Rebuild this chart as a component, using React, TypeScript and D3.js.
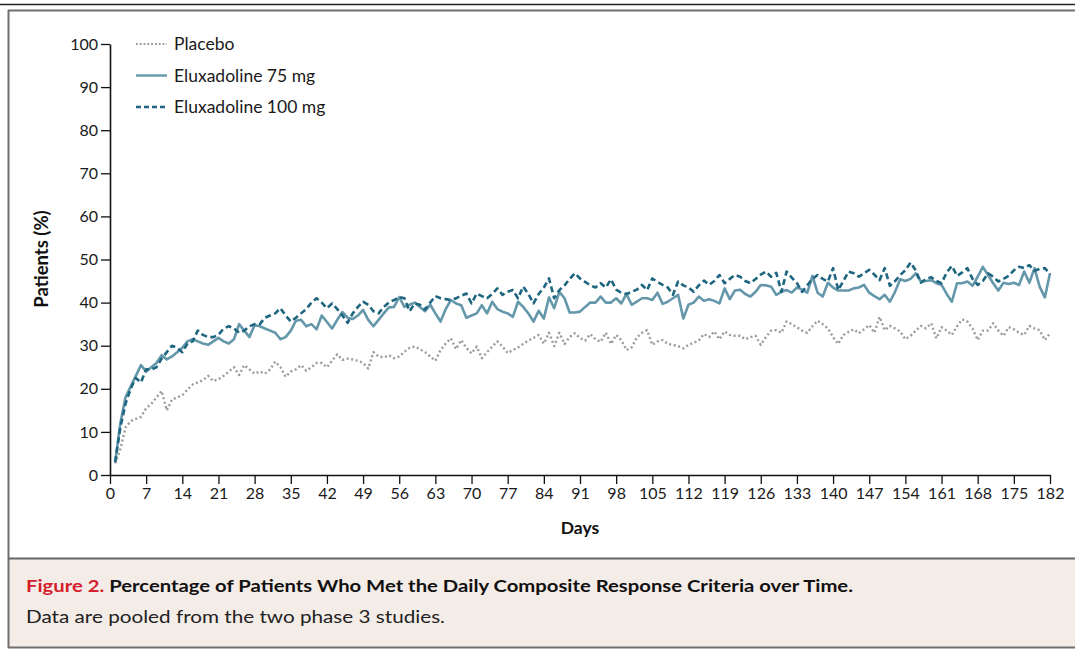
import { useEffect, useRef } from 'react';
import * as d3 from 'd3';

// study days 1..182
const days = d3.range(1, 183);

const xTicks = [0, 7, 14, 21, 28, 35, 42, 49, 56, 63, 70, 77, 84, 91, 98, 105, 112, 119, 126, 133, 140, 147, 154, 161, 168, 175, 182];
const yTicks = [0, 10, 20, 30, 40, 50, 60, 70, 80, 90, 100];

// % of patients meeting daily composite response
const placebo = [
  2.7, 6, 11, 12.5, 13, 13.5, 15.5, 16.5, 18, 19.5,
  15, 17.5, 18, 18.5, 19.8, 21, 21.5, 22, 23, 21.8,
  22.2, 23, 24, 25, 23.2, 25.5, 24.5, 23.5, 24, 23.5,
  24.5, 26.3, 25, 22.8, 24, 24.5, 25.5, 24.2, 25, 26,
  26, 25, 26.5, 28, 26.7, 27, 26.8, 26.5, 26, 24.7,
  28.5, 27.5, 27.3, 27.8, 27.1, 27.5, 28.6, 29.5, 29.8, 29.2,
  28.5, 27.5, 26.5, 29, 30.5, 31.7, 29.2, 31.3, 29.5, 28.2,
  29.8, 27.1, 28.5, 29.8, 31, 29.8, 28.3, 29, 29.6, 30.4,
  31.2, 31.8, 32.5, 30.5, 33, 29.9, 33, 30.4, 32, 32.9,
  31.8, 31.2, 32.7, 31.5, 30.9, 33, 30.4, 32.5, 31.3, 29,
  29.6, 31.9, 33, 33.6, 30.2, 31, 31.3, 30.4, 30.2, 29.9,
  29.4, 30.2, 30.7, 31.2, 32.7, 32, 33.3, 31.5, 33.3, 32.5,
  32.3, 32.3, 31.5, 32, 32.3, 30.2, 32, 33.5, 33.6, 33,
  35.6, 35, 34.3, 33.5, 33, 34.5, 35.8, 35, 34, 32,
  30.4, 32.5, 33.2, 33.8, 32.9, 33.8, 34.8, 33, 36.7, 33.6,
  34.6, 34, 33.3, 31.5, 32.3, 33.5, 34.6, 34, 35.2, 31.7,
  34.3, 33.5, 32.5, 34.5, 36.1, 35.6, 34, 31.3, 33.5, 33.5,
  35.2, 33.5, 32.3, 34.3, 33.8, 33, 32.5, 34.6, 34, 33.6,
  31.3, 32.9,
];

const elux75 = [
  3, 12, 18, 20.5, 23, 25.5, 24, 25, 26, 27.8,
  26.8, 27.5, 28.5, 29.5, 31, 31.5, 31, 30.5, 30.2, 31,
  31.8, 31, 30.5, 31.5, 35, 33.5, 32, 34.8, 34.5, 34,
  33.5, 33, 31.5, 32, 33.5, 35.8, 36, 34.5, 35, 33.8,
  37, 35.5, 34, 36, 37.8, 36.5, 36.2, 37, 38.3, 36,
  34.5, 36, 37.5, 38.9, 39, 41.3, 39, 39.5, 40, 39,
  38, 39.5, 37.5, 35.6, 38.5, 40.6, 39.8, 39.4, 36.5, 37,
  37.5, 39.4, 37.5, 40.2, 38.5, 37.9, 37.5, 36.7, 40.2, 39,
  37.5, 35.6, 38.1, 36.3, 41.2, 38.7, 42.5, 41, 37.7, 37.7,
  37.9, 39, 40, 40, 41.4, 40, 40, 41, 39.8, 42,
  39.5, 40.2, 41, 41, 40.6, 42.3, 39.7, 40.2, 41, 41.8,
  36.3, 39.5, 40, 41.4, 40.4, 40.8, 40.4, 39.8, 43.3, 40.8,
  42.8, 43, 42, 41.4, 42.5, 44.1, 44, 43.7, 41.8, 42.5,
  42.9, 42.3, 43.5, 43, 42.3, 46.2, 42.3, 41.4, 44.6, 43.5,
  42.8, 42.8, 42.8, 43.3, 43.5, 44.1, 42.3, 41.5, 40.8, 41.8,
  40.2, 42.5, 45.4, 45, 45.5, 46.8, 44.9, 45, 45.2, 44.5,
  44.1, 42, 40.2, 44.5, 44.5, 44.9, 43.9, 46, 48.3, 46.4,
  44.5, 42.8, 44.6, 44.3, 44.6, 44.1, 47.2, 44.6, 48, 43.7,
  41.2, 46.8,
];

const elux100 = [
  3, 11, 16.5, 20, 22.5, 21.5, 24.5, 24.5, 25, 27,
  28.5, 30, 29.5, 28.5, 30.5, 31, 33.5, 32.5, 32, 32,
  32.5, 34, 34.5, 34, 33, 33.5, 34.5, 35, 35, 36.5,
  37, 37.5, 38.7, 37, 35.6, 36.5, 37.5, 38.5, 40, 41,
  40, 38.7, 39.8, 38.5, 37, 35.3, 37.5, 39, 40.2, 39.5,
  38, 37.5, 39, 40, 40.6, 41.3, 41, 38, 39.8, 39.5,
  38.4, 40, 41.5, 41, 40.8, 40.6, 41, 41.6, 42.1, 39.8,
  42.1, 41.5, 41, 42, 43.3, 41.8, 42.5, 42.9, 41, 43.7,
  42, 39.8, 42, 43.5, 45.6, 41, 42.9, 44, 45.5, 46.8,
  45.6, 44.8, 44, 43.5, 44.5, 43.5, 45.4, 43, 42.3, 42,
  42.5, 43, 44.1, 42.9, 45.6, 44.8, 44.1, 43.5, 41.8, 44.9,
  44, 43.5, 42.5, 44, 45.1, 44.1, 45, 46.4, 44.5, 45.5,
  46.4, 46, 45, 44.5, 45.5, 46.5, 47.2, 46, 46.9, 42.5,
  47.2, 45.8, 44.5, 42.5, 44, 45.5, 46.4, 45.5, 44.9, 48,
  42.9, 45, 47.2, 46.8, 46, 46.8, 47.6, 46.5, 45.2, 48,
  43.9, 45, 46.4, 47.5, 49.3, 47.5, 44.6, 45.5, 45.9, 45,
  44.5, 47, 48.5, 46.2, 47, 48, 45.5, 44.1, 45, 46.8,
  46, 44.9, 45.5, 46.2, 47.5, 48.3, 48, 48.7, 47.4, 47.8,
  48, 46.6,
];

const seriesNames = ['Placebo', 'Eluxadoline 75 mg', 'Eluxadoline 100 mg'];

const styles = [
  { color: '#9b9b9b', dash: '2,2.6', width: 2.4 },
  { color: '#6597ab', dash: null, width: 2.6 },
  { color: '#1e6680', dash: '6,3.5', width: 2.6 },
];

const FONT = 'Lato, "Open Sans", sans-serif';

const App = () => {
  const svgRef = useRef(null);

  useEffect(() => {
    const width = 1075;
    const height = 649;

    const svg = d3.select(svgRef.current);
    svg.selectAll('*').remove();
    svg.attr('width', width).attr('height', height);

    // frame + caption panel
    svg.append('rect').attr('x', 0).attr('y', 0).attr('width', width).attr('height', height).attr('fill', '#fff');
    svg.append('rect').attr('x', 9).attr('y', 559).attr('width', width - 9).attr('height', 88).attr('fill', '#f4ece7');
    svg.append('line').attr('x1', 0).attr('x2', width).attr('y1', 4.5).attr('y2', 4.5)
      .attr('stroke', '#222').attr('stroke-width', 1.5);
    svg.append('line').attr('x1', 8).attr('x2', width).attr('y1', 10.5).attr('y2', 10.5)
      .attr('stroke', '#6f6f6f').attr('stroke-width', 2);
    svg.append('line').attr('x1', 8.5).attr('x2', 8.5).attr('y1', 10).attr('y2', 648)
      .attr('stroke', '#6f6f6f').attr('stroke-width', 2);
    svg.append('line').attr('x1', 8).attr('x2', width).attr('y1', 558.5).attr('y2', 558.5)
      .attr('stroke', '#666').attr('stroke-width', 2);
    svg.append('line').attr('x1', 8).attr('x2', width).attr('y1', 647.5).attr('y2', 647.5)
      .attr('stroke', '#6f6f6f').attr('stroke-width', 2);

    const x = d3.scaleLinear().domain([0, 182]).range([110, 1050]);
    const y = d3.scaleLinear().domain([0, 100]).range([475, 44]);

    // axes
    const yAxis = svg.append('g')
      .attr('transform', 'translate(110,0)')
      .call(d3.axisLeft(y).tickValues(yTicks).tickSize(9).tickPadding(3).tickSizeOuter(0));
    const xAxis = svg.append('g')
      .attr('transform', 'translate(0,475)')
      .call(d3.axisBottom(x).tickValues(xTicks).tickSize(9).tickPadding(4).tickSizeOuter(0));

    [yAxis, xAxis].forEach(g => {
      g.select('.domain').attr('stroke', '#111').attr('stroke-width', 1.6);
      g.selectAll('.tick line').attr('stroke', '#111').attr('stroke-width', 1.3);
      g.selectAll('.tick text')
        .attr('font-family', FONT)
        .attr('font-size', '16px')
        .attr('fill', '#1a1a1a');
    });

    svg.append('text')
      .attr('x', 580).attr('y', 534)
      .attr('text-anchor', 'middle')
      .attr('font-family', FONT).attr('font-weight', 'bold').attr('font-size', '17.5px')
      .attr('fill', '#111')
      .text('Days');

    svg.append('text')
      .attr('transform', 'translate(48,259) rotate(-90)')
      .attr('text-anchor', 'middle')
      .attr('font-family', FONT).attr('font-weight', 'bold').attr('font-size', '18.5px')
      .attr('fill', '#111')
      .text('Patients (%)');

    // lines
    const line = d3.line()
      .x((d, i) => x(days[i]))
      .y(d => y(d));

    [placebo, elux75, elux100].forEach((data, k) => {
      const p = svg.append('path')
        .datum(data)
        .attr('d', line)
        .attr('fill', 'none')
        .attr('stroke', styles[k].color)
        .attr('stroke-width', styles[k].width)
        .attr('stroke-linejoin', 'round');
      if (styles[k].dash) p.attr('stroke-dasharray', styles[k].dash);
    });

    // legend
    const legendY = [44, 75.5, 107];
    seriesNames.forEach((name, k) => {
      const l = svg.append('line')
        .attr('x1', 136).attr('x2', 167)
        .attr('y1', legendY[k]).attr('y2', legendY[k])
        .attr('stroke', styles[k].color)
        .attr('stroke-width', k === 0 ? 2 : 2.4);
      if (styles[k].dash) l.attr('stroke-dasharray', k === 0 ? '1.8,2' : '5,3');
      svg.append('text')
        .attr('x', 174).attr('y', legendY[k])
        .attr('dy', '0.35em')
        .attr('font-family', FONT).attr('font-size', '17.5px')
        .attr('fill', '#1a1a1a')
        .text(name);
    });

    // caption
    const cap = svg.append('text')
      .attr('x', 26).attr('y', 592)
      .attr('font-family', FONT).attr('font-weight', 'bold').attr('font-size', '17.5px')
      .attr('textLength', 827).attr('lengthAdjust', 'spacingAndGlyphs');
    cap.append('tspan').attr('fill', '#d4202c').text('Figure 2. ');
    cap.append('tspan').attr('fill', '#111').text('Percentage of Patients Who Met the Daily Composite Response Criteria over Time.');

    svg.append('text')
      .attr('x', 26).attr('y', 623)
      .attr('font-family', FONT).attr('font-size', '17.5px')
      .attr('fill', '#222')
      .attr('textLength', 419).attr('lengthAdjust', 'spacingAndGlyphs')
      .text('Data are pooled from the two phase 3 studies.');
  }, []);

  return (
    <div style={{ position: 'absolute', left: 0, top: 0 }}>
      <svg ref={svgRef} style={{ display: 'block' }}></svg>
    </div>
  );
};

export default App;
